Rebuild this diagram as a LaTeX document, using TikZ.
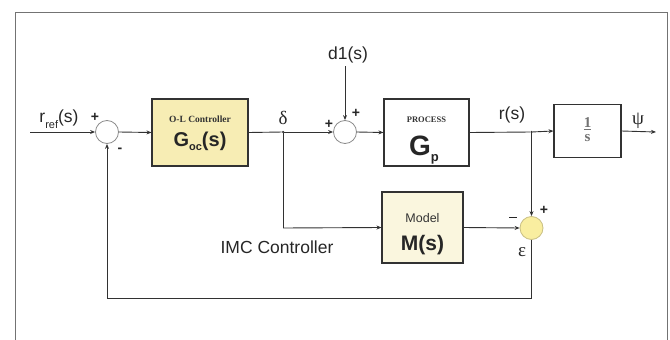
\documentclass[tikz,border=0pt]{standalone}
\usepackage{fontspec}
\setmainfont{Liberation Sans}
\newfontfamily\serifb{Liberation Serif}
\usetikzlibrary{arrows.meta}
\definecolor{yelbox}{RGB}{247,237,180}
\definecolor{modbox}{RGB}{250,246,222}
\definecolor{sumyel}{RGB}{249,238,160}
\definecolor{sumyeld}{RGB}{200,190,130}
\definecolor{linec}{RGB}{50,50,50}
\begin{document}
\begin{tikzpicture}[x=1pt,y=-1pt,
  line/.style={draw=linec, line width=0.9pt},
  arr/.style={line, -{Stealth[length=5pt,width=4pt]}},
  blk/.style={draw=linec, line width=1.1pt, inner sep=0pt, align=center},
  sumc/.style={circle, draw=black!45, line width=0.8pt, minimum size=23pt, inner sep=0pt, fill=white},
  lbl/.style={font=\fontsize{17.5}{18}\selectfont, inner sep=0pt, text=black!85},
  grk/.style={font=\serifb\fontsize{19}{19}\selectfont, inner sep=0pt, text=black!85},
  sgn/.style={font=\bfseries\fontsize{14}{14}\selectfont, inner sep=0pt, text=black!85},
  dot/.style={circle, fill=linec, inner sep=0pt, minimum size=2.5pt}
]
\useasboundingbox (0,0) rectangle (670,340);
\draw[black!55, line width=1pt] (15,345) -- (15,12) -- (667,12) -- (667,345);

% blocks
\node[sumc] (s1) at (107,132) {};
\node[blk, fill=yelbox, minimum width=96pt, minimum height=67pt] (goc) at (200,132.5) {};
\node[font=\serifb\bfseries\fontsize{9.5}{10}\selectfont, text=black!80, inner sep=0pt] (goct) at (200,119) {O-L Controller};
\node[font=\bfseries\fontsize{20}{20}\selectfont, text=black!85, inner sep=0pt] (gocs) at (200,141) {G\raisebox{-0.4ex}{\fontsize{11}{11}\selectfont oc}(s)};

\node[sumc] (s2) at (345,132) {};
\node[blk, fill=white, minimum width=85pt, minimum height=67pt] (gp) at (426.5,132.5) {};
\node[font=\serifb\bfseries\fontsize{8.5}{9}\selectfont, text=black!80, inner sep=0pt] (gpt) at (426.5,120) {PROCESS};
\node[font=\bfseries\fontsize{28}{28}\selectfont, text=black!85, inner sep=0pt] (gps) at (424,150) {G\raisebox{-0.35ex}{\fontsize{13}{13}\selectfont p}};

\node[blk, fill=white, minimum width=67pt, minimum height=53pt] (int) at (587.5,131) {};
\node[font=\serifb\bfseries\fontsize{15}{15}\selectfont, text=black!55, inner sep=0pt, align=center] (intt) at (587.5,130) {\underline{1}\\[-1pt]s};

\node[blk, fill=modbox, minimum width=81pt, minimum height=71pt] (mod) at (422.5,227.5) {};
\node[font=\fontsize{12.5}{13}\selectfont, text=black!80, inner sep=0pt] (modt) at (422.5,218) {Model};
\node[font=\bfseries\fontsize{21}{21}\selectfont, text=black!85, inner sep=0pt] (mods) at (422.5,245) {M(s)};

\node[circle, draw=sumyeld, line width=0.8pt, fill=sumyel, minimum size=23pt, inner sep=0pt] (s3) at (531.5,228) {};

% junctions and coordinates
\node[dot] (jd) at (283,132) {};
\node[dot] (jr) at (531.5,132) {};
\coordinate (in) at (30,132);
\coordinate (out) at (656,132);
\coordinate (dtop) at (345,66);
\coordinate (dlow) at (283,228);
\coordinate (fb1) at (531.5,298);
\coordinate (fb2) at (107,298);

% labels
\node[lbl] (lref) at (59,119) {r\raisebox{-0.6ex}{\fontsize{11}{11}\selectfont ref}(s)};
\node[grk] (ldelta) at (283,118) {δ};
\node[lbl] (ld1) at (348,55) {d1(s)};
\node[lbl] (lr) at (512,115) {r(s)};
\node[grk] (lpsi) at (638,121) {ψ};
\node[grk] (leps) at (522,252) {ε};
\node[lbl] (limc) at (277,247) {IMC Controller};

\node[sgn] (p1) at (95,117) {+};
\node[sgn] (m1) at (120,150) {-};
\node[sgn] (p2) at (329,124) {+};
\node[sgn] (p3) at (356,113) {+};
\node[sgn] (p4) at (544,210) {+};
\node[sgn] (m4) at (513,219) {\rule[0.4ex]{8pt}{1.3pt}};

% connectors
\draw[arr] (in) -- (s1.west);
\draw[arr] (s1.east) -- (goc.west);
\draw[line] (goc.east) -- (jd);
\draw[arr] (jd) -- (s2.west);
\draw[arr] (dtop) -- (s2.north);
\draw[arr] (s2.east) -- (gp.west);
\draw[line] (gp.east) -- (jr);
\draw[arr] (jr) -- (int.west);
\draw[arr] (int.east) -- (out);
\draw[line] (jd) -- (dlow);
\draw[arr] (dlow) -- (mod.west);
\draw[arr] (mod.east) -- (s3.west);
\draw[arr] (jr) -- (s3.north);
\draw[line] (s3.south) -- (fb1) -- (fb2);
\draw[arr] (fb2) -- (s1.south);
\end{tikzpicture}
\end{document}
